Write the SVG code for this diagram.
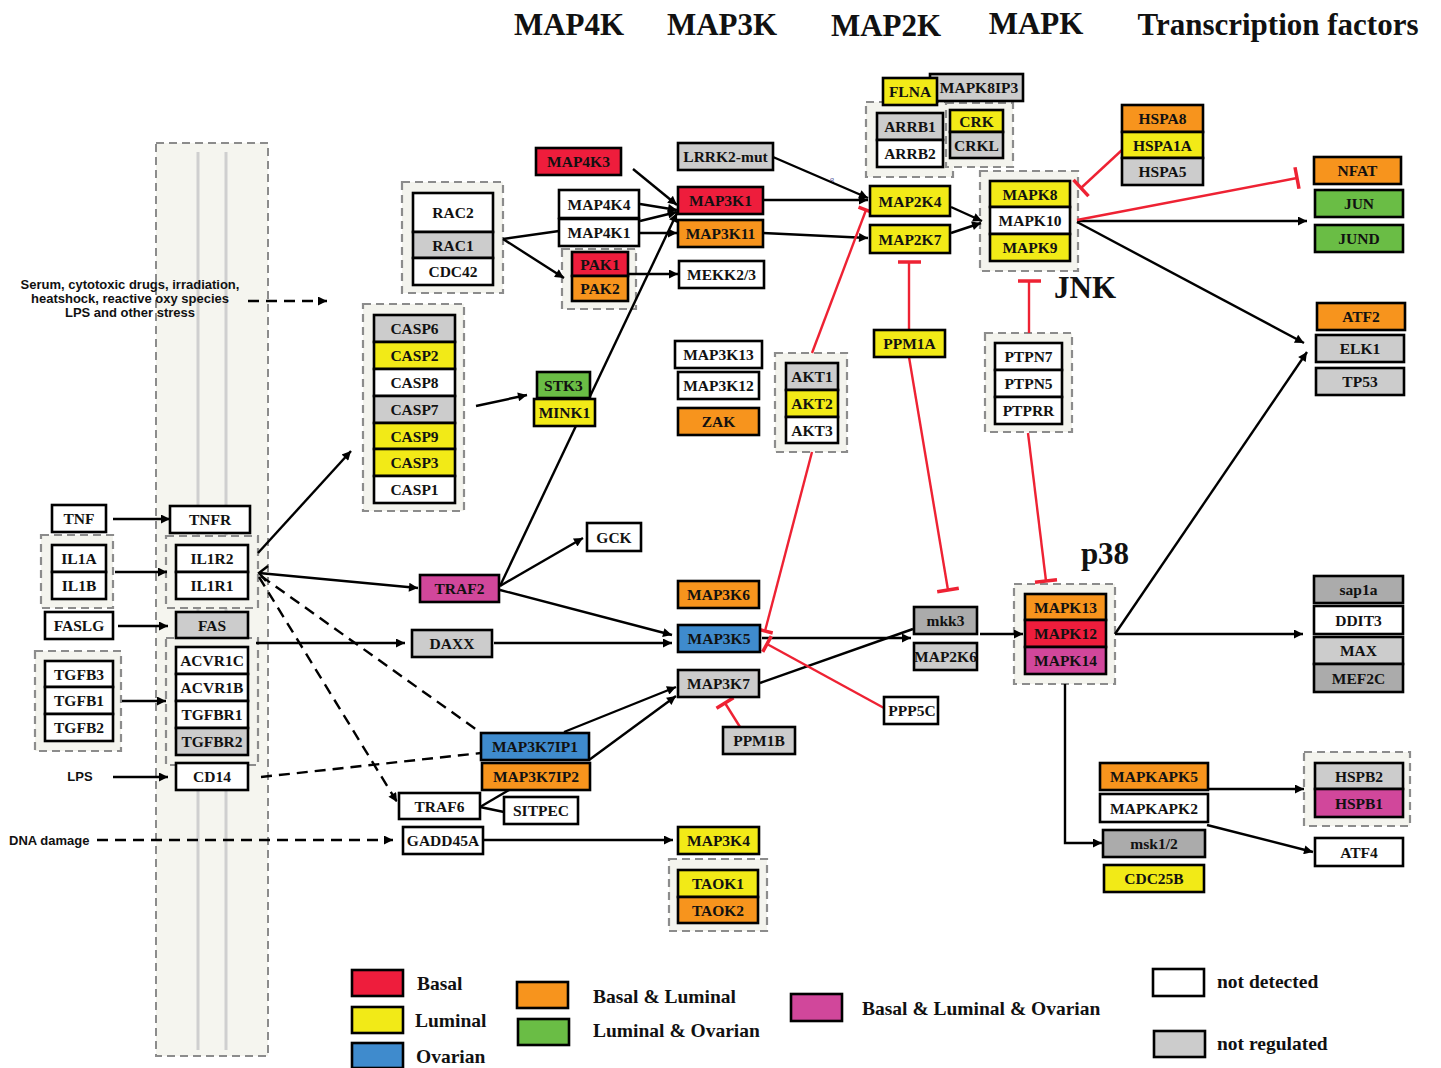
<svg xmlns="http://www.w3.org/2000/svg" width="1441" height="1068" viewBox="0 0 1441 1068">
<style>
.bg{fill:#fff}
.col{fill:#f5f5ef;stroke:#8c8c8c;stroke-width:2;stroke-dasharray:8 5}
.cl{stroke:#cfcfcf;stroke-width:3}
.grp{fill:#f4f4ee;stroke:#8c8c8c;stroke-width:2.2;stroke-dasharray:8 5}
.n rect{stroke:#000;stroke-width:2.6}
.n text{font-family:"Liberation Serif","Times New Roman",serif;font-weight:bold;font-size:15.5px;text-anchor:middle;fill:#111}
.r{fill:#ee1d3c}.y{fill:#f2ea17}.b{fill:#3f8bcd}.o{fill:#f7941d}.g{fill:#6abd45}.m{fill:#d1479b}.w{fill:#fff}.lg{fill:#cccccc}.dg{fill:#ababab}
.c line,.c path,.c polyline{stroke:#000;stroke-width:2.4;fill:none}
.c .d{stroke-dasharray:11 7}
.c .inh{stroke:#ee2233;stroke-width:2.4}
.c .bar{stroke:#ee2233;stroke-width:3.5}
.title{font-family:"Liberation Serif","Times New Roman",serif;font-weight:bold;font-size:31px;text-anchor:middle;fill:#111}
.lab{font-family:"Liberation Sans",Arial,sans-serif;font-weight:bold;font-size:13px;fill:#111}
.leg{font-family:"Liberation Serif","Times New Roman",serif;font-weight:bold;font-size:19.5px;fill:#111}
.legbox{stroke:#000;stroke-width:2.6}
</style>
<defs>
<marker id="a" viewBox="0 0 10 10" refX="10" refY="5" markerWidth="13" markerHeight="9" markerUnits="userSpaceOnUse" orient="auto"><path d="M0,0 L10,5 L0,10 z" fill="#000"/></marker>
</defs>
<rect class="bg" x="0" y="0" width="1441" height="1068"/>

<g id="titles">
<text class="title" x="569" y="35">MAP4K</text>
<text class="title" x="722" y="35">MAP3K</text>
<text class="title" x="886" y="36">MAP2K</text>
<text class="title" x="1036" y="34">MAPK</text>
<text class="title" x="1278" y="35">Transcription factors</text>
<text class="title" x="1085" y="298">JNK</text>
<text class="title" x="1105" y="564">p38</text>
</g>

<g id="membrane">
<rect class="col" x="156" y="143" width="112" height="913"/>
<line class="cl" x1="198" y1="152" x2="198" y2="1050"/>
<line class="cl" x1="226" y1="152" x2="226" y2="1050"/>
</g>

<g id="containers">
<rect class="grp" x="41" y="535" width="72" height="73"/>
<rect class="grp" x="166" y="536" width="92" height="72"/>
<rect class="grp" x="166" y="638" width="92" height="127"/>
<rect class="grp" x="35" y="651" width="86" height="100"/>
<rect class="grp" x="363" y="304" width="101" height="207"/>
<rect class="grp" x="402" y="182" width="101" height="111"/>
<rect class="grp" x="562" y="249" width="74" height="60"/>
<rect class="grp" x="866" y="102" width="87" height="75"/>
<rect class="grp" x="946" y="103" width="67" height="64"/>
<rect class="grp" x="980" y="171" width="98" height="100"/>
<rect class="grp" x="775" y="353" width="72" height="99"/>
<rect class="grp" x="985" y="333" width="87" height="99"/>
<rect class="grp" x="1014" y="584" width="101" height="100"/>
<rect class="grp" x="669" y="859" width="98" height="72"/>
<rect class="grp" x="1304" y="752" width="106" height="74"/>
</g>

<g id="labels">
<text class="lab" x="130" y="289" text-anchor="middle">Serum, cytotoxic drugs, irradiation,</text>
<text class="lab" x="130" y="303" text-anchor="middle">heatshock, reactive oxy species</text>
<text class="lab" x="130" y="317" text-anchor="middle">LPS and other stress</text>
<text class="lab" x="80" y="781" text-anchor="middle">LPS</text>
<text class="lab" x="9" y="845">DNA damage</text>
<text x="832" y="183" font-family="Liberation Sans, Arial, sans-serif" font-size="8" fill="#5a5aa0" text-anchor="middle">8</text>
</g>

<g id="connectors" class="c">
<line class="d" x1="248" y1="301" x2="327" y2="301" marker-end="url(#a)"/>
<line class="d" x1="97" y1="840" x2="393" y2="840" marker-end="url(#a)"/>
<line x1="113" y1="519" x2="170" y2="519" marker-end="url(#a)"/>
<line x1="115" y1="572" x2="167" y2="572" marker-end="url(#a)"/>
<line x1="118" y1="626" x2="168" y2="626" marker-end="url(#a)"/>
<line x1="122" y1="701" x2="166" y2="701" marker-end="url(#a)"/>
<line x1="113" y1="777" x2="168" y2="777" marker-end="url(#a)"/>
<line x1="258" y1="553" x2="351" y2="451" marker-end="url(#a)"/>
<line x1="259" y1="573" x2="418" y2="588" marker-end="url(#a)"/>
<polyline points="268,566 259,573 266,581"/>
<line x1="256" y1="643" x2="405" y2="643" marker-end="url(#a)"/>
<line class="d" x1="261" y1="576" x2="477" y2="730"/>
<line class="d" x1="259" y1="577" x2="397" y2="802" marker-end="url(#a)"/>
<line class="d" x1="261" y1="777" x2="481" y2="753"/>
<line x1="494" y1="643" x2="672" y2="643" marker-end="url(#a)"/>
<line x1="500" y1="590" x2="672" y2="635" marker-end="url(#a)"/>
<line x1="500" y1="586" x2="677" y2="213" marker-end="url(#a)"/>
<line x1="500" y1="586" x2="583" y2="538" marker-end="url(#a)"/>
<line x1="476" y1="406" x2="527" y2="395" marker-end="url(#a)"/>
<line x1="503" y1="239" x2="559" y2="231"/>
<line x1="503" y1="239" x2="564" y2="278" marker-end="url(#a)"/>
<line x1="626" y1="274" x2="678" y2="274" marker-end="url(#a)"/>
<line x1="633" y1="169" x2="677" y2="205" marker-end="url(#a)"/>
<line x1="640" y1="204" x2="677" y2="210" marker-end="url(#a)"/>
<line x1="640" y1="221" x2="677" y2="212" marker-end="url(#a)"/>
<line x1="640" y1="233" x2="677" y2="233" marker-end="url(#a)"/>
<line x1="773" y1="157" x2="868" y2="198" marker-end="url(#a)"/>
<line x1="763" y1="200" x2="868" y2="200" marker-end="url(#a)"/>
<line x1="763" y1="233" x2="868" y2="238" marker-end="url(#a)"/>
<line x1="951" y1="207" x2="982" y2="221" marker-end="url(#a)"/>
<line x1="951" y1="233" x2="981" y2="223" marker-end="url(#a)"/>
<line x1="1077" y1="221" x2="1307" y2="221" marker-end="url(#a)"/>
<line x1="1077" y1="222" x2="1304" y2="343" marker-end="url(#a)"/>
<line x1="1115" y1="634" x2="1307" y2="352" marker-end="url(#a)"/>
<line x1="1115" y1="634" x2="1303" y2="634" marker-end="url(#a)"/>
<line x1="980" y1="634" x2="1023" y2="634" marker-end="url(#a)"/>
<line x1="762" y1="638" x2="911" y2="638" marker-end="url(#a)"/>
<line x1="760" y1="683" x2="913" y2="629"/>
<line x1="564" y1="732" x2="676" y2="687" marker-end="url(#a)"/>
<line x1="589" y1="760" x2="676" y2="696" marker-end="url(#a)"/>
<line x1="480" y1="807" x2="509" y2="790"/>
<line x1="480" y1="807" x2="504" y2="812"/>
<line x1="484" y1="840" x2="673" y2="840" marker-end="url(#a)"/>
<path d="M1065,684 V843 H1102" marker-end="url(#a)"/>
<line x1="1208" y1="789" x2="1304" y2="789" marker-end="url(#a)"/>
<line x1="1207" y1="825" x2="1313" y2="852" marker-end="url(#a)"/>
<line class="inh" x1="812" y1="353" x2="866" y2="210"/>
<line class="bar" x1="858.5" y1="207.2" x2="873.5" y2="212.8"/>
<line class="inh" x1="812" y1="452" x2="765" y2="631"/>
<line class="bar" x1="757.3" y1="629" x2="772.7" y2="633"/>
<line class="inh" x1="884" y1="708" x2="767" y2="644"/>
<line class="bar" x1="771.3" y1="636.1" x2="762.7" y2="651.9"/>
<line class="inh" x1="740" y1="727" x2="725" y2="703"/>
<line class="bar" x1="733.5" y1="697.7" x2="716.5" y2="708.3"/>
<line class="inh" x1="909" y1="330" x2="909" y2="262"/>
<line class="bar" x1="898" y1="262" x2="921" y2="262"/>
<line class="inh" x1="909" y1="357" x2="948" y2="590"/>
<line class="bar" x1="937.2" y1="591.8" x2="958.8" y2="588.2"/>
<line class="inh" x1="1029" y1="333" x2="1029" y2="281"/>
<line class="bar" x1="1018" y1="281" x2="1041" y2="281"/>
<line class="inh" x1="1028" y1="433" x2="1046" y2="581"/>
<line class="bar" x1="1035" y1="582.3" x2="1057" y2="579.7"/>
<line class="inh" x1="1122" y1="150" x2="1081" y2="188"/>
<line class="bar" x1="1073.5" y1="179.9" x2="1088.5" y2="196.1"/>
<line class="inh" x1="1077" y1="220" x2="1297" y2="178"/>
<line class="bar" x1="1295" y1="167.2" x2="1299" y2="188.8"/>
</g>

<g id="TNF" class="n"><rect class="w" x="52" y="505" width="54" height="27"/><text x="79" y="524">TNF</text></g>
<g id="TNFR" class="n"><rect class="w" x="170" y="506" width="80" height="27"/><text x="210" y="525">TNFR</text></g>
<g id="IL1A" class="n"><rect class="w" x="52" y="545" width="54" height="27"/><text x="79" y="564">IL1A</text></g>
<g id="IL1B" class="n"><rect class="w" x="52" y="572" width="54" height="27"/><text x="79" y="591">IL1B</text></g>
<g id="IL1R2" class="n"><rect class="w" x="176" y="545" width="72" height="27"/><text x="212" y="564">IL1R2</text></g>
<g id="IL1R1" class="n"><rect class="w" x="176" y="572" width="72" height="27"/><text x="212" y="591">IL1R1</text></g>
<g id="FASLG" class="n"><rect class="w" x="45" y="612" width="68" height="27"/><text x="79" y="631">FASLG</text></g>
<g id="FAS" class="n"><rect class="lg" x="176" y="612" width="72" height="26"/><text x="212" y="630.5">FAS</text></g>
<g id="ACVR1C" class="n"><rect class="w" x="176" y="647" width="72" height="27"/><text x="212" y="666">ACVR1C</text></g>
<g id="ACVR1B" class="n"><rect class="w" x="176" y="674" width="72" height="27"/><text x="212" y="693">ACVR1B</text></g>
<g id="TGFBR1" class="n"><rect class="w" x="176" y="701" width="72" height="27"/><text x="212" y="720">TGFBR1</text></g>
<g id="TGFBR2" class="n"><rect class="lg" x="176" y="728" width="72" height="27"/><text x="212" y="747">TGFBR2</text></g>
<g id="TGFB3" class="n"><rect class="w" x="45" y="661" width="68" height="26"/><text x="79" y="679.5">TGFB3</text></g>
<g id="TGFB1" class="n"><rect class="w" x="45" y="687" width="68" height="27"/><text x="79" y="706">TGFB1</text></g>
<g id="TGFB2" class="n"><rect class="w" x="45" y="714" width="68" height="27"/><text x="79" y="733">TGFB2</text></g>
<g id="CD14" class="n"><rect class="w" x="176" y="763" width="72" height="27"/><text x="212" y="782">CD14</text></g>

<g id="CASP6" class="n"><rect class="lg" x="374" y="315" width="81" height="27"/><text x="414.5" y="334">CASP6</text></g>
<g id="CASP2" class="n"><rect class="y" x="374" y="342" width="81" height="27"/><text x="414.5" y="361">CASP2</text></g>
<g id="CASP8" class="n"><rect class="w" x="374" y="369" width="81" height="27"/><text x="414.5" y="388">CASP8</text></g>
<g id="CASP7" class="n"><rect class="lg" x="374" y="396" width="81" height="27"/><text x="414.5" y="415">CASP7</text></g>
<g id="CASP9" class="n"><rect class="y" x="374" y="423" width="81" height="26"/><text x="414.5" y="441.5">CASP9</text></g>
<g id="CASP3" class="n"><rect class="y" x="374" y="449" width="81" height="27"/><text x="414.5" y="468">CASP3</text></g>
<g id="CASP1" class="n"><rect class="w" x="374" y="476" width="81" height="27"/><text x="414.5" y="495">CASP1</text></g>

<g id="RAC2" class="n"><rect class="w" x="413" y="193" width="80" height="39"/><text x="453" y="218">RAC2</text></g>
<g id="RAC1" class="n"><rect class="lg" x="413" y="232" width="80" height="26"/><text x="453" y="250.5">RAC1</text></g>
<g id="CDC42" class="n"><rect class="w" x="413" y="258" width="80" height="27"/><text x="453" y="277">CDC42</text></g>

<g id="MAP4K3" class="n"><rect class="r" x="536" y="148" width="85" height="27"/><text x="578.5" y="167">MAP4K3</text></g>
<g id="MAP4K4" class="n"><rect class="w" x="559" y="190" width="80" height="28"/><text x="599" y="209.5">MAP4K4</text></g>
<g id="MAP4K1" class="n"><rect class="w" x="559" y="219" width="80" height="27"/><text x="599" y="238">MAP4K1</text></g>
<g id="PAK1" class="n"><rect class="r" x="572" y="252" width="56" height="24"/><text x="600" y="269.5">PAK1</text></g>
<g id="PAK2" class="n"><rect class="o" x="572" y="276" width="56" height="25"/><text x="600" y="294">PAK2</text></g>
<g id="MEKK23" class="n"><rect class="w" x="679" y="261" width="85" height="27"/><text x="721.5" y="280">MEKK2/3</text></g>
<g id="LRRK2mut" class="n"><rect class="lg" x="678" y="143" width="95" height="27"/><text x="725.5" y="162">LRRK2-mut</text></g>
<g id="MAP3K1" class="n"><rect class="r" x="678" y="187" width="85" height="27"/><text x="720.5" y="206">MAP3K1</text></g>
<g id="MAP3K11" class="n"><rect class="o" x="678" y="220" width="85" height="27"/><text x="720.5" y="239">MAP3K11</text></g>
<g id="MAP3K13" class="n"><rect class="w" x="675" y="341" width="87" height="27"/><text x="718.5" y="360">MAP3K13</text></g>
<g id="MAP3K12" class="n"><rect class="w" x="678" y="372" width="81" height="27"/><text x="718.5" y="391">MAP3K12</text></g>
<g id="ZAK" class="n"><rect class="o" x="678" y="408" width="81" height="27"/><text x="718.5" y="427">ZAK</text></g>
<g id="STK3" class="n"><rect class="g" x="537" y="372" width="53" height="26"/><text x="563.5" y="390.5">STK3</text></g>
<g id="MINK1" class="n"><rect class="y" x="534" y="399" width="61" height="27"/><text x="564.5" y="418">MINK1</text></g>
<g id="GCK" class="n"><rect class="w" x="587" y="523" width="54" height="28"/><text x="614" y="542.5">GCK</text></g>
<g id="TRAF2" class="n"><rect class="m" x="420" y="575" width="79" height="27"/><text x="459.5" y="594">TRAF2</text></g>
<g id="DAXX" class="n"><rect class="lg" x="412" y="630" width="80" height="27"/><text x="452" y="649">DAXX</text></g>
<g id="MAP3K6" class="n"><rect class="o" x="678" y="581" width="81" height="27"/><text x="718.5" y="600">MAP3K6</text></g>
<g id="MAP3K5" class="n"><rect class="b" x="678" y="625" width="82" height="27"/><text x="719" y="644">MAP3K5</text></g>
<g id="MAP3K7" class="n"><rect class="lg" x="678" y="670" width="81" height="27"/><text x="718.5" y="689">MAP3K7</text></g>
<g id="MAP3K7IP1" class="n"><rect class="b" x="481" y="733" width="108" height="27"/><text x="535" y="752">MAP3K7IP1</text></g>
<g id="MAP3K7IP2" class="n"><rect class="o" x="482" y="763" width="108" height="27"/><text x="536" y="782">MAP3K7IP2</text></g>
<g id="TRAF6" class="n"><rect class="w" x="399" y="793" width="81" height="26"/><text x="439.5" y="811.5">TRAF6</text></g>
<g id="SITPEC" class="n"><rect class="w" x="504" y="797" width="74" height="27"/><text x="541" y="816">SITPEC</text></g>
<g id="GADD45A" class="n"><rect class="w" x="403" y="827" width="80" height="27"/><text x="443" y="846">GADD45A</text></g>
<g id="MAP3K4" class="n"><rect class="y" x="678" y="827" width="81" height="27"/><text x="718.5" y="846">MAP3K4</text></g>
<g id="TAOK1" class="n"><rect class="y" x="678" y="870" width="80" height="27"/><text x="718" y="889">TAOK1</text></g>
<g id="TAOK2" class="n"><rect class="o" x="678" y="897" width="80" height="26"/><text x="718" y="915.5">TAOK2</text></g>
<g id="PPM1B" class="n"><rect class="lg" x="723" y="727" width="72" height="27"/><text x="759" y="746">PPM1B</text></g>
<g id="PPP5C" class="n"><rect class="w" x="884" y="697" width="54" height="27"/><text x="912" y="716">PPP5C</text></g>
<g id="mkk3" class="n"><rect class="dg" x="914" y="607" width="63" height="27"/><text x="945.5" y="626">mkk3</text></g>
<g id="MAP2K6" class="n"><rect class="lg" x="914" y="643" width="63" height="27"/><text x="945.5" y="662">MAP2K6</text></g>
<g id="AKT1" class="n"><rect class="lg" x="786" y="363" width="52" height="27"/><text x="812" y="382">AKT1</text></g>
<g id="AKT2" class="n"><rect class="y" x="786" y="390" width="52" height="27"/><text x="812" y="409">AKT2</text></g>
<g id="AKT3" class="n"><rect class="w" x="786" y="417" width="52" height="26"/><text x="812" y="435.5">AKT3</text></g>
<g id="PPM1A" class="n"><rect class="y" x="874" y="330" width="71" height="27"/><text x="909.5" y="349">PPM1A</text></g>
<g id="MAP2K4" class="n"><rect class="y" x="870" y="186" width="80" height="30"/><text x="910" y="206.5">MAP2K4</text></g>
<g id="MAP2K7" class="n"><rect class="y" x="870" y="225" width="80" height="28"/><text x="910" y="244.5">MAP2K7</text></g>
<g id="MAPK8IP3" class="n"><rect class="lg" x="930" y="74" width="93" height="27"/><text x="979" y="93">MAPK8IP3</text></g>
<g id="FLNA" class="n"><rect class="y" x="883" y="78" width="54" height="27"/><text x="910" y="97">FLNA</text></g>
<g id="ARRB1" class="n"><rect class="lg" x="877" y="113" width="66" height="27"/><text x="910" y="132">ARRB1</text></g>
<g id="ARRB2" class="n"><rect class="w" x="877" y="140" width="66" height="27"/><text x="910" y="159">ARRB2</text></g>
<g id="CRK" class="n"><rect class="y" x="950" y="110" width="53" height="22"/><text x="976.5" y="126.5">CRK</text></g>
<g id="CRKL" class="n"><rect class="lg" x="950" y="132" width="53" height="26"/><text x="976.5" y="150.5">CRKL</text></g>
<g id="MAPK8" class="n"><rect class="y" x="990" y="181" width="80" height="26"/><text x="1030" y="199.5">MAPK8</text></g>
<g id="MAPK10" class="n"><rect class="w" x="990" y="207" width="80" height="27"/><text x="1030" y="226">MAPK10</text></g>
<g id="MAPK9" class="n"><rect class="y" x="990" y="234" width="80" height="27"/><text x="1030" y="253">MAPK9</text></g>
<g id="PTPN7" class="n"><rect class="w" x="995" y="343" width="67" height="27"/><text x="1028.5" y="362">PTPN7</text></g>
<g id="PTPN5" class="n"><rect class="w" x="995" y="370" width="67" height="27"/><text x="1028.5" y="389">PTPN5</text></g>
<g id="PTPRR" class="n"><rect class="w" x="995" y="397" width="67" height="27"/><text x="1028.5" y="416">PTPRR</text></g>
<g id="HSPA8" class="n"><rect class="o" x="1122" y="105" width="81" height="27"/><text x="1162.5" y="124">HSPA8</text></g>
<g id="HSPA1A" class="n"><rect class="y" x="1122" y="132" width="81" height="26"/><text x="1162.5" y="150.5">HSPA1A</text></g>
<g id="HSPA5" class="n"><rect class="lg" x="1122" y="158" width="81" height="27"/><text x="1162.5" y="177">HSPA5</text></g>
<g id="NFAT" class="n"><rect class="o" x="1314" y="157" width="87" height="27"/><text x="1357.5" y="176">NFAT</text></g>
<g id="JUN" class="n"><rect class="g" x="1315" y="190" width="88" height="27"/><text x="1359" y="209">JUN</text></g>
<g id="JUND" class="n"><rect class="g" x="1315" y="225" width="88" height="27"/><text x="1359" y="244">JUND</text></g>
<g id="ATF2" class="n"><rect class="o" x="1317" y="303" width="88" height="27"/><text x="1361" y="322">ATF2</text></g>
<g id="ELK1" class="n"><rect class="lg" x="1316" y="335" width="88" height="27"/><text x="1360" y="354">ELK1</text></g>
<g id="TP53" class="n"><rect class="lg" x="1316" y="368" width="88" height="27"/><text x="1360" y="387">TP53</text></g>
<g id="MAPK13" class="n"><rect class="o" x="1025" y="594" width="81" height="26"/><text x="1065.5" y="612.5">MAPK13</text></g>
<g id="MAPK12" class="n"><rect class="r" x="1025" y="620" width="81" height="27"/><text x="1065.5" y="639">MAPK12</text></g>
<g id="MAPK14" class="n"><rect class="m" x="1025" y="647" width="81" height="27"/><text x="1065.5" y="666">MAPK14</text></g>
<g id="sap1a" class="n"><rect class="dg" x="1314" y="576" width="89" height="27"/><text x="1358.5" y="595">sap1a</text></g>
<g id="DDIT3" class="n"><rect class="w" x="1314" y="606" width="89" height="28"/><text x="1358.5" y="625.5">DDIT3</text></g>
<g id="MAX" class="n"><rect class="lg" x="1314" y="637" width="89" height="27"/><text x="1358.5" y="656">MAX</text></g>
<g id="MEF2C" class="n"><rect class="dg" x="1314" y="664" width="89" height="28"/><text x="1358.5" y="683.5">MEF2C</text></g>
<g id="MAPKAPK5" class="n"><rect class="o" x="1100" y="763" width="108" height="27"/><text x="1154" y="782">MAPKAPK5</text></g>
<g id="MAPKAPK2" class="n"><rect class="w" x="1100" y="794" width="108" height="28"/><text x="1154" y="813.5">MAPKAPK2</text></g>
<g id="msk12" class="n"><rect class="dg" x="1103" y="830" width="102" height="27"/><text x="1154" y="849">msk1/2</text></g>
<g id="CDC25B" class="n"><rect class="y" x="1104" y="865" width="100" height="27"/><text x="1154" y="884">CDC25B</text></g>
<g id="HSPB2" class="n"><rect class="lg" x="1315" y="763" width="88" height="26"/><text x="1359" y="781.5">HSPB2</text></g>
<g id="HSPB1" class="n"><rect class="m" x="1315" y="789" width="88" height="28"/><text x="1359" y="808.5">HSPB1</text></g>
<g id="ATF4" class="n"><rect class="w" x="1315" y="838" width="88" height="28"/><text x="1359" y="857.5">ATF4</text></g>

<g id="legend">
<rect class="legbox r" x="352" y="970" width="51" height="26"/><text class="leg" x="417" y="990">Basal</text>
<rect class="legbox y" x="352" y="1007" width="51" height="26"/><text class="leg" x="415" y="1027">Luminal</text>
<rect class="legbox b" x="352" y="1043" width="51" height="25"/><text class="leg" x="416" y="1063">Ovarian</text>
<rect class="legbox o" x="517" y="982" width="51" height="26"/><text class="leg" x="593" y="1003">Basal &amp; Luminal</text>
<rect class="legbox g" x="518" y="1019" width="51" height="26"/><text class="leg" x="593" y="1037">Luminal &amp; Ovarian</text>
<rect class="legbox m" x="791" y="994" width="51" height="27"/><text class="leg" x="862" y="1015">Basal &amp; Luminal &amp; Ovarian</text>
<rect class="legbox w" x="1153" y="969" width="51" height="27"/><text class="leg" x="1217" y="988">not detected</text>
<rect class="legbox lg" x="1154" y="1031" width="51" height="26"/><text class="leg" x="1217" y="1050">not regulated</text>
</g>
</svg>
